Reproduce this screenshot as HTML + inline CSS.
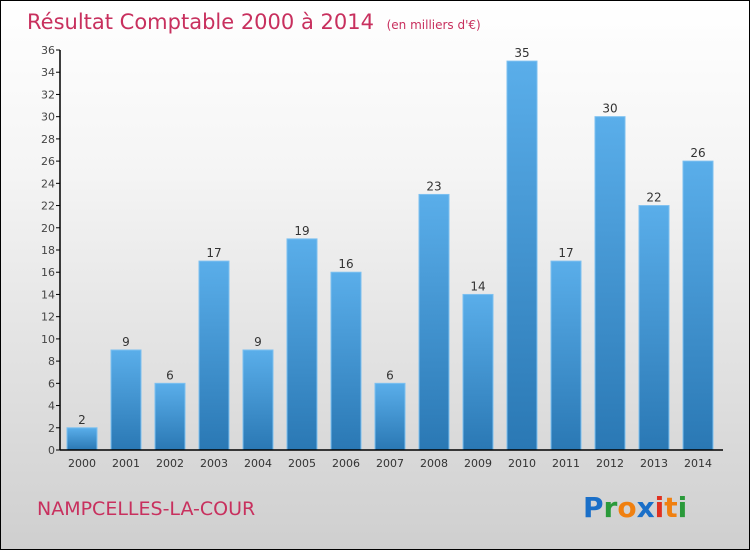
<!DOCTYPE html>
<html><head><meta charset="utf-8"><style>
body{margin:0}
#c{width:748px;height:548px;border:1px solid #000;background:linear-gradient(#fff,#f5f5f5 30%,#cfcfcf);position:relative;font-family:"DejaVu Sans","Liberation Sans",sans-serif;overflow:hidden}
</style></head><body>
<div id="c">
<svg width="748" height="548">
<defs><linearGradient id="g" x1="0" y1="0" x2="0" y2="1"><stop offset="0" stop-color="#5aaeea"/><stop offset="1" stop-color="#2a78b4"/></linearGradient></defs>
<text x="26" y="28" font-size="21" fill="#c8305e">Résultat Comptable 2000 à 2014 <tspan font-size="12" dx="6">(en milliers d'€)</tspan></text>
<g id="plot"></g>
<text x="36" y="514" font-size="19" fill="#c8305e">NAMPCELLES-LA-COUR</text>
<text x="582" y="516" font-size="28" font-family="DejaVu Sans" font-weight="bold"><tspan fill="#1a6fc8">P</tspan><tspan fill="#2a9a3a">r</tspan><tspan fill="#f08010">o</tspan><tspan fill="#1a6fc8">x</tspan><tspan fill="#e03020">i</tspan><tspan fill="#f08010">t</tspan><tspan fill="#2a9a3a">i</tspan></text>
</svg></div>
<script>
const years=["2000","2001","2002","2003","2004","2005","2006","2007","2008","2009","2010","2011","2012","2013","2014"];
const values=[2,9,6,17,9,19,16,6,23,14,35,17,30,22,26];
const yTicks=[0,2,4,6,8,10,12,14,16,18,20,22,24,26,28,30,32,34,36];
const NS="http://www.w3.org/2000/svg",g=document.getElementById('plot');
const y0=449,yTop=49,yMax=36,x0=59,step=44,bw=30;
const ys=v=>y0-(y0-yTop)*v/yMax, xc=i=>x0+22+i*step;
function mk(t,a){const e=document.createElementNS(NS,t);for(const k in a)e.setAttribute(k,a[k]);g.appendChild(e);return e;}
yTicks.forEach(t=>{
 const l=mk('line',{x1:x0-4,x2:x0,y1:ys(t),y2:ys(t),stroke:'#000'});
 
 
 const tx=mk('text',{x:x0-5,y:ys(t)+4,'text-anchor':'end','font-size':11,fill:'#444'});tx.textContent=t;
 
 
});
values.forEach((v,i)=>{
 const r=mk('rect',{x:xc(i)-bw/2,y:ys(v),width:bw,height:y0-ys(v),fill:'url(#g)',stroke:'#7cc0f0','stroke-width':1});
 
 
 const t=mk('text',{x:xc(i),y:ys(v)-4,'text-anchor':'middle','font-size':12,fill:'#333'});t.textContent=v;
 
 
 const xl=mk('text',{x:xc(i),y:y0+17,'text-anchor':'middle','font-size':11,fill:'#333'});xl.textContent=years[i];
 
 
});
const ya=mk('line',{x1:x0,x2:x0,y1:yTop,y2:y0,stroke:'#000','stroke-width':1.5});


const xa=mk('line',{x1:x0,x2:722,y1:y0,y2:y0,stroke:'#000','stroke-width':1.5});


</script>
</body></html>
